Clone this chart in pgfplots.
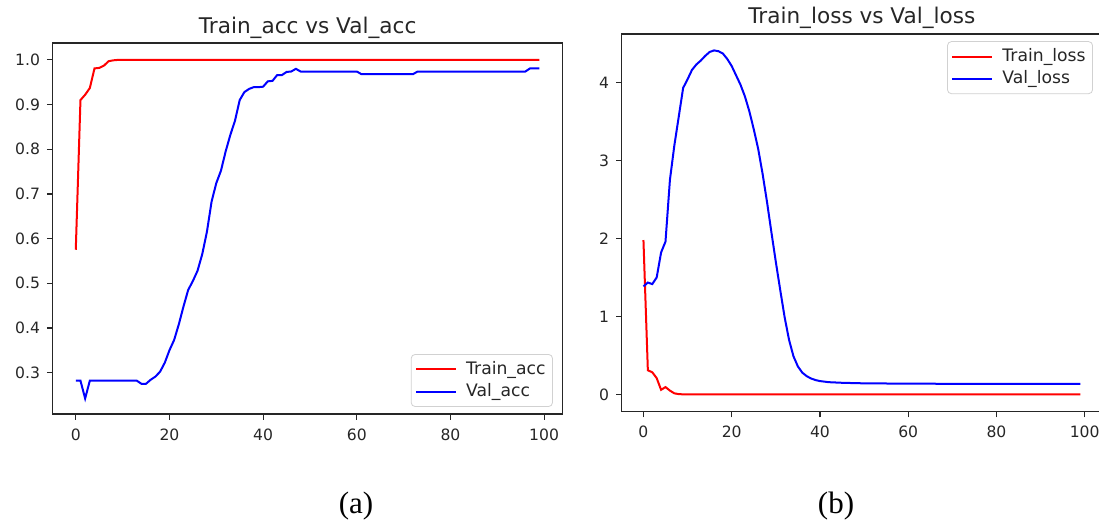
\documentclass[border=0pt]{standalone}
\usepackage{pgfplots}
\pgfplotsset{compat=1.18}
\usepackage{fontspec}
\setmainfont{DejaVu Sans}
\newfontfamily\capfont{Liberation Serif}
\begin{document}
\begin{tikzpicture}
\useasboundingbox (0,0) rectangle (549.5pt,260.5pt);
\clip (0,0) rectangle (549.5pt,260.5pt);
\pgfplotsset{
  common/.style={
    scale only axis,
    axis line style={black!85, line width=0.6pt},
    tick align=outside, xtick pos=bottom, ytick pos=left,
    major tick length=2.8pt,
    tick style={black!85, line width=0.6pt},
    ticklabel style={font=\fontsize{7.8}{9}\selectfont, text=black!85},
    /pgf/number format/assume math mode=true,
    xmin=-4.95, xmax=103.95,
    xtick={0,20,40,60,80,100},
    xticklabel style={yshift=-1pt},
    title style={font=\fontsize{10.8}{12}\selectfont, text=black!85, inner sep=1pt},
    legend style={draw=black!18, rounded corners=2pt, fill=white, font=\fontsize{8.6}{10}\selectfont, text=black!85, inner sep=2pt, row sep=0pt, column sep=3pt, nodes={inner sep=1.5pt}},
    legend cell align=left,
    legend image code/.code={\draw[#1] (0pt,0pt) -- (20pt,0pt);},
  }
}
\begin{axis}[common,
  at={(26.3pt,53.5pt)}, anchor=south west,
  width=255pt, height=185.5pt,
  ymin=0.2073, ymax=1.0378,
  ytick={0.3,0.4,0.5,0.6,0.7,0.8,0.9,1.0},
  yticklabel style={/pgf/number format/fixed, /pgf/number format/fixed zerofill, /pgf/number format/precision=1},
  title={Train\_acc vs Val\_acc},
  title style={yshift=-5pt},
  legend style={at={(0.981,0.019)}, anchor=south east},
]
\addplot[red, line width=1pt] coordinates {
(0,0.575)(1,0.91)(2,0.922)(3,0.937)(4,0.981)(5,0.982)(6,0.987)(7,0.997)(8,0.999)(9,1.0)(10,1.0)(20,1.0)(40,1.0)(60,1.0)(80,1.0)(99,1.0)};
\addlegendentry{Train\_acc}
\addplot[blue, line width=1pt] coordinates {
(0,0.282)(1,0.282)(2,0.242)(3,0.282)(4,0.282)(5,0.282)(6,0.282)(7,0.282)(8,0.282)(9,0.282)(10,0.282)(11,0.282)(12,0.282)(13,0.282)(14,0.275)(15,0.275)(16,0.284)(17,0.291)(18,0.302)(19,0.322)(20,0.35)(21,0.373)(22,0.408)(23,0.448)(24,0.485)(25,0.505)(26,0.528)(27,0.565)(28,0.615)(29,0.683)(30,0.724)(31,0.752)(32,0.795)(33,0.832)(34,0.864)(35,0.910)(36,0.928)(37,0.935)(38,0.939)(39,0.939)(40,0.940)(41,0.952)(42,0.953)(43,0.966)(44,0.966)(45,0.973)(46,0.974)(47,0.980)(48,0.974)(49,0.974)(50,0.974)(55,0.974)(60,0.974)(61,0.968)(65,0.968)(70,0.968)(72,0.968)(73,0.974)(80,0.974)(90,0.974)(96,0.974)(97,0.981)(98,0.981)(99,0.981)};
\addlegendentry{Val\_acc}
\end{axis}
\begin{axis}[common,
  at={(310.8pt,54.65pt)}, anchor=south west,
  width=240.25pt, height=188.85pt,
  ymin=-0.2205, ymax=4.6205,
  ytick={0,1,2,3,4},
  title={Train\_loss vs Val\_loss},
  title style={yshift=-4.5pt},
  legend style={at={(0.981,0.981)}, anchor=north east},
]
\addplot[red, line width=1pt] coordinates {
(0,1.98)(1,0.31)(2,0.285)(3,0.21)(4,0.06)(5,0.095)(6,0.05)(7,0.015)(8,0.005)(9,0.002)(10,0.001)(20,0.0)(40,0.0)(60,0.0)(80,0.0)(99,0.0)};
\addlegendentry{Train\_loss}
\addplot[blue, line width=1pt] coordinates {
(0,1.385)(1,1.435)(2,1.415)(3,1.50)(4,1.82)(5,1.96)(6,2.75)(7,3.19)(8,3.56)(9,3.93)(10,4.04)(11,4.16)(12,4.23)(13,4.28)(14,4.34)(15,4.39)(16,4.41)(17,4.40)(18,4.37)(19,4.30)(20,4.21)(21,4.09)(22,3.97)(23,3.82)(24,3.63)(25,3.40)(26,3.15)(27,2.83)(28,2.47)(29,2.08)(30,1.70)(31,1.34)(32,0.99)(33,0.70)(34,0.49)(35,0.36)(36,0.28)(37,0.235)(38,0.205)(39,0.185)(40,0.172)(42,0.158)(45,0.15)(50,0.143)(60,0.139)(70,0.137)(80,0.136)(99,0.135)};
\addlegendentry{Val\_loss}
\end{axis}
\node[font=\capfont\fontsize{15.5}{17}\selectfont] at (178pt,7.5pt) {(a)};
\node[font=\capfont\fontsize{15.5}{17}\selectfont] at (418pt,7.5pt) {(b)};
\end{tikzpicture}
\end{document}
